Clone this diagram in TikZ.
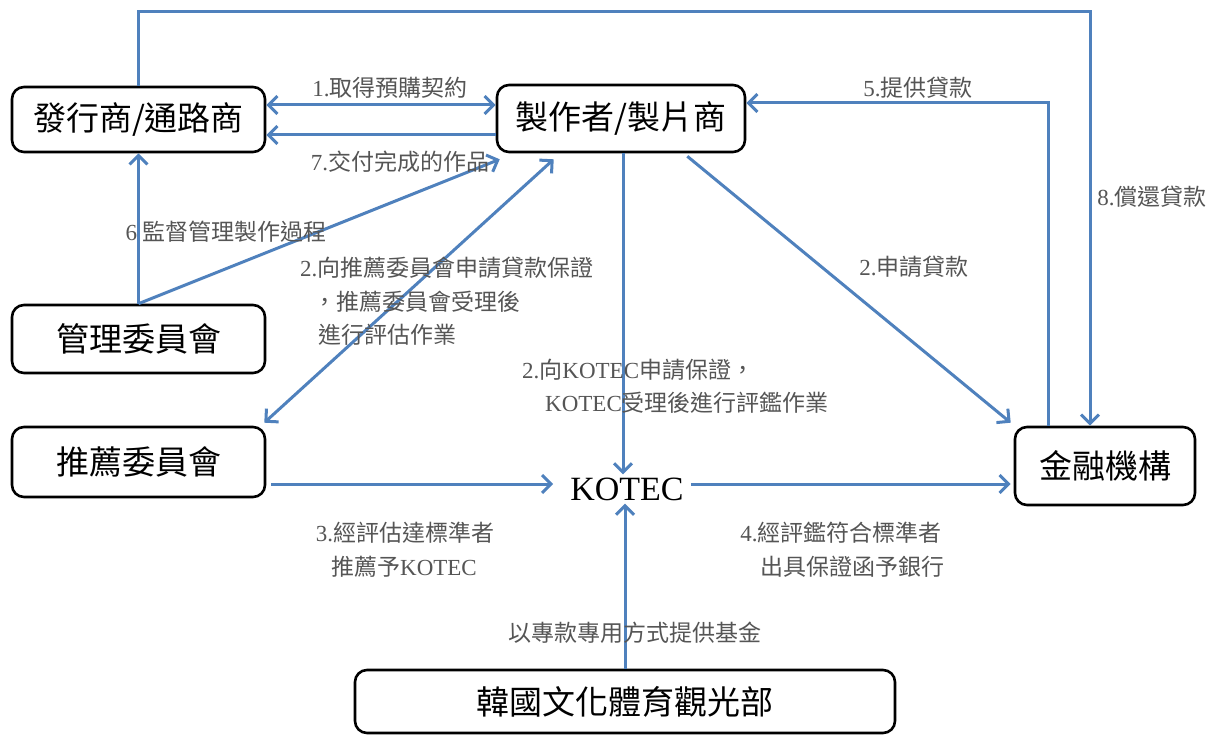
\documentclass[tikz,border=0pt]{standalone}
\usepackage{fontspec}
\setmainfont{Noto Sans CJK TC}
\newfontfamily\tmfont{Liberation Serif}
\newcommand{\tm}[1]{{\tmfont #1}}
\usetikzlibrary{arrows.meta,calc}
\definecolor{lineblue}{RGB}{79,129,189}
\definecolor{labelgray}{RGB}{85,85,85}
\begin{document}
\begin{tikzpicture}[x=1pt,y=-1pt,
  boxnode/.style={draw=black,line width=2.6pt,rounded corners=12pt,fill=white,
    font=\fontsize{33}{38}\selectfont,inner sep=0pt},
  conn/.style={draw=lineblue,line width=3pt},
  arr/.style={conn,-{Straight Barb[length=9pt,width=18pt]}},
  darr/.style={conn,{Straight Barb[length=9pt,width=18pt]}-{Straight Barb[length=9pt,width=18pt]}},
  lbl/.style={text=labelgray,font=\fontsize{23}{33}\selectfont,inner sep=0pt}]
\useasboundingbox (0,0) rectangle (1220,735);

% nodes
\node[boxnode,minimum width=253pt,minimum height=65pt] (fa) at (138.5,119.5) {發行商/通路商};
\node[boxnode,minimum width=248pt,minimum height=67pt] (zz) at (621,118.5) {製作者/製片商};
\node[boxnode,minimum width=253pt,minimum height=68pt] (gl) at (138.5,339) {管理委員會};
\node[boxnode,minimum width=253pt,minimum height=70pt] (tj) at (138.5,462) {推薦委員會};
\node[boxnode,minimum width=180pt,minimum height=78pt] (jr) at (1105,466) {金融機構};
\node[boxnode,minimum width=540pt,minimum height=63pt] (hg) at (625,701.5) {韓國文化體育觀光部};
\node[font=\tmfont\fontsize{34}{40}\selectfont,inner sep=0pt] (ko) at (627,489) {KOTEC};

\coordinate (top) at (1090,12);
\coordinate (c5) at (1048,103);

% connectors
\draw[arr] (fa.north) |- (top) -- (top |- jr.north);
\draw[darr] ([yshift=14.5pt]fa.east) -- ([yshift=14.5pt]fa.east -| zz.west);
\draw[arr] ([yshift=-16.5pt]zz.west) -- ([yshift=-16.5pt]zz.west -| fa.east);
\draw[arr] (jr.north -| c5) -- (c5) -- (c5 -| zz.east);
\draw[arr] (gl.north) -- (fa.south);
\draw[arr] (gl.north) -- ([xshift=4pt,yshift=-6pt]zz.south west);
\draw[darr] ([xshift=58pt,yshift=-6pt]zz.south west) -- ([xshift=-2pt,yshift=3pt]tj.north east);
\draw[arr] ([xshift=2pt]zz.south) -- ([xshift=2pt,yshift=3pt]zz.south |- ko.north);
\draw[arr] ([xshift=-59pt,yshift=-3pt]zz.south east) -- ([xshift=-3pt,yshift=3pt]jr.north west);
\draw[arr] ([xshift=5pt,yshift=-22pt]tj.east) -- ([xshift=-17pt,yshift=-22pt]tj.east -| ko.west);
\draw[arr] ([xshift=7pt,yshift=5pt]ko.east) -- ([xshift=-3pt,yshift=-18pt]jr.west);
\draw[arr] (hg.north) -- ([yshift=-3pt]hg.north |- ko.south);

% labels
\node[lbl] (l1) at (390,88) {\tm{1.}取得預購契約};
\node[lbl] (l7) at (400,162) {\tm{7.}交付完成的作品};
\node[lbl] (l5) at (918,88) {\tm{5.}提供貸款};
\node[lbl] (l8) at (1152,197) {\tm{8.}償還貸款};
\node[lbl] (l6) at (226,232) {\tm{6} 監督管理製作過程};
\node[lbl,anchor=west] (l2a) at (300,268) {\tm{2.}向推薦委員會申請貸款保證};
\node[lbl,anchor=west] (l2a2) at (313,302) {，推薦委員會受理後};
\node[lbl,anchor=west] (l2a3) at (318,335) {進行評估作業};
\node[lbl] (l2b) at (914,267) {\tm{2.}申請貸款};
\node[lbl,anchor=west] (l2c) at (522,370) {\tm{2.}向\tm{KOTEC}申請保證，};
\node[lbl,anchor=west] (l2d) at (545,403) {\tm{KOTEC}受理後進行評鑑作業};
\node[lbl] (l3a) at (405,533) {\tm{3.}經評估達標準者};
\node[lbl] (l3b) at (404,567) {推薦予\tm{KOTEC}};
\node[lbl] (l4a) at (841,533) {\tm{4.}經評鑑符合標準者};
\node[lbl] (l4b) at (852,567) {出具保證函予銀行};
\node[lbl] (lf) at (635,633) {以專款專用方式提供基金};
\end{tikzpicture}
\end{document}
